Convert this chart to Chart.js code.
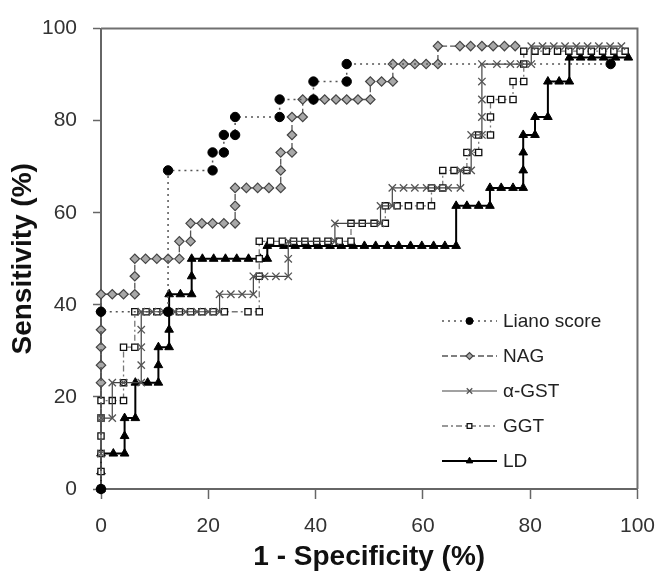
<!DOCTYPE html>
<html>
<head>
<meta charset="utf-8">
<script src="https://cdn.jsdelivr.net/npm/chart.js@4.4.1/dist/chart.umd.min.js"></script>
<style>
  html, body { margin: 0; padding: 0; background: #fff; }
  #wrap { width: 670px; height: 574px; }
</style>
</head>
<body>
<div id="wrap"><canvas id="roc"></canvas></div>
<script>
const seriesNames = ['Liano score', 'NAG', 'α-GST', 'GGT', 'LD'];
const xTicks = [0, 20, 40, 60, 80, 100];
const yTicks = [0, 20, 40, 60, 80, 100];

// ROC steps: 1 - specificity (%) and sensitivity (%)
const lianoX = [0, 0, 12.5, 12.5, 20.8, 20.8, 22.9, 22.9, 25.0, 25.0, 33.3, 33.3, 39.6, 39.6, 45.8, 45.8, 95.0];
const lianoY = [0, 38.5, 38.5, 69.2, 69.2, 73.1, 73.1, 76.9, 76.9, 80.8, 80.8, 84.6, 84.6, 88.5, 88.5, 92.3, 92.3];

const nagX = [0, 0, 0, 0, 0, 0, 0, 2.1, 4.2, 6.3, 6.3, 6.3, 8.3, 10.4, 12.5, 14.6, 14.6, 16.7, 16.7, 18.8, 20.8, 22.9, 25.0, 25.0, 25.0,
  27.1, 29.2, 31.3, 33.5, 33.5, 33.5, 35.6, 35.6, 35.6, 37.6, 37.6, 39.6, 41.7, 43.8, 45.8, 47.9, 50.2, 50.2, 52.3, 54.4, 54.4,
  56.4, 58.5, 60.6, 62.8, 62.8, 66.9, 68.9, 71.0, 73.1, 75.2, 77.2];
const nagY = [0, 23.1, 26.9, 30.8, 34.6, 38.5, 42.3, 42.3, 42.3, 42.3, 46.2, 50.0, 50.0, 50.0, 50.0, 50.0, 53.8, 53.8, 57.7, 57.7, 57.7, 57.7, 57.7, 61.5, 65.4,
  65.4, 65.4, 65.4, 65.4, 69.2, 73.1, 73.1, 76.9, 80.8, 80.8, 84.6, 84.6, 84.6, 84.6, 84.6, 84.6, 84.6, 88.5, 88.5, 88.5, 92.3,
  92.3, 92.3, 92.3, 92.3, 96.2, 96.2, 96.2, 96.2, 96.2, 96.2, 96.2];

const gstX = [0, 0, 0, 2.1, 2.1, 4.2, 7.5, 7.5, 7.5, 7.5, 7.5, 9.6, 11.7, 13.8, 15.8, 17.9, 20.0, 22.1, 22.1, 24.2, 26.3, 28.4, 28.4,
  30.5, 32.6, 34.9, 34.9, 34.9, 43.6, 43.6, 52.1, 52.1, 54.3, 54.3, 56.4, 58.5, 60.7, 62.7, 64.7, 67.0, 67.0, 69.0, 69.0, 69.0,
  71.0, 71.0, 71.0, 71.0, 71.0, 73.8, 76.3, 78.2, 80.2, 80.2, 82.3, 84.4, 86.5, 88.6, 90.7, 92.8, 94.9, 97.0];
const gstY = [0, 7.7, 15.4, 15.4, 23.1, 23.1, 23.1, 26.9, 30.8, 34.6, 38.5, 38.5, 38.5, 38.5, 38.5, 38.5, 38.5, 38.5, 42.3, 42.3, 42.3, 42.3, 46.2,
  46.2, 46.2, 46.2, 50.0, 53.8, 53.8, 57.7, 57.7, 61.5, 61.5, 65.4, 65.4, 65.4, 65.4, 65.4, 65.4, 65.4, 69.2, 69.2, 73.1, 76.9,
  76.9, 80.8, 84.6, 88.5, 92.3, 92.3, 92.3, 92.3, 92.3, 96.2, 96.2, 96.2, 96.2, 96.2, 96.2, 96.2, 96.2, 96.2];

const ggtX = [0, 0, 0, 0, 0, 0, 2.1, 4.2, 4.2, 4.2, 6.3, 6.3, 8.4, 10.4, 12.5, 14.6, 16.7, 18.8, 20.9, 23.0, 27.4, 29.5, 29.5, 29.5, 29.5,
  31.6, 33.8, 35.9, 38.0, 40.2, 42.3, 44.4, 46.6, 46.6, 48.7, 50.9, 53.0, 53.0, 55.2, 57.3, 59.5, 61.6, 61.6, 63.7, 63.7, 65.8,
  68.2, 68.2, 70.4, 70.4, 72.6, 72.6, 72.6, 74.7, 76.8, 76.8, 78.8, 78.8, 78.8, 80.9, 83.0, 85.1, 87.2, 89.3, 91.4, 93.5, 95.6, 97.7];
const ggtY = [0, 3.8, 7.7, 11.5, 15.4, 19.2, 19.2, 19.2, 23.1, 30.8, 30.8, 38.5, 38.5, 38.5, 38.5, 38.5, 38.5, 38.5, 38.5, 38.5, 38.5, 38.5, 46.2, 50.0, 53.8,
  53.8, 53.8, 53.8, 53.8, 53.8, 53.8, 53.8, 53.8, 57.7, 57.7, 57.7, 57.7, 61.5, 61.5, 61.5, 61.5, 61.5, 65.4, 65.4, 69.2, 69.2,
  69.2, 73.1, 73.1, 76.9, 76.9, 80.8, 84.6, 84.6, 84.6, 88.5, 88.5, 92.3, 95.1, 95.1, 95.1, 95.1, 95.1, 95.1, 95.1, 95.1, 95.1, 95.1];

const ldX = [0, 0, 0, 2.3, 4.4, 4.4, 4.4, 6.4, 6.4, 8.7, 10.7, 10.7, 10.7, 12.7, 12.7, 12.7, 12.7, 14.8, 16.9, 16.9, 16.9, 18.9, 21.0, 23.2,
  25.3, 27.5, 29.7, 31.0, 31.0, 34.1, 36.2, 38.4, 40.5, 42.7, 44.8, 47.0, 49.1, 51.2, 53.4, 55.5, 57.7, 59.8, 62.0, 64.1, 66.2,
  66.2, 68.2, 70.4, 72.5, 72.5, 74.6, 76.8, 78.7, 78.7, 78.7, 78.7, 80.9, 80.9, 83.3, 83.3, 85.4, 87.3, 87.3, 89.4, 91.5, 93.7, 95.9, 98.3];
const ldY = [0, 3.8, 7.7, 7.7, 7.7, 11.5, 15.4, 15.4, 23.1, 23.1, 23.1, 26.9, 30.8, 30.8, 34.6, 38.5, 42.3, 42.3, 42.3, 46.2, 50.0, 50.0, 50.0, 50.0,
  50.0, 50.0, 50.0, 50.0, 52.8, 52.8, 52.8, 52.8, 52.8, 52.8, 52.8, 52.8, 52.8, 52.8, 52.8, 52.8, 52.8, 52.8, 52.8, 52.8, 52.8,
  61.5, 61.5, 61.5, 61.5, 65.4, 65.4, 65.4, 65.4, 69.2, 73.1, 76.9, 76.9, 80.8, 80.8, 88.5, 88.5, 88.5, 93.7, 93.7, 93.7, 93.7, 93.7, 93.7];

const pairs = (xs, ys) => xs.map((x, i) => ({ x, y: ys[i] }));

const datasets = [
  { label: seriesNames[0], data: pairs(lianoX, lianoY), borderColor: '#555', borderWidth: 1.5, borderDash: [2, 4],
    pointStyle: 'circle', pointRadius: 4.7, pointBackgroundColor: '#000', pointBorderColor: '#000', pointBorderWidth: 1 },
  { label: seriesNames[1], data: pairs(nagX, nagY), borderColor: '#555', borderWidth: 1.3, borderDash: [6, 3],
    pointStyle: 'rectRot', pointRadius: 4.7, pointBackgroundColor: '#a8a8a8', pointBorderColor: '#444', pointBorderWidth: 1.2 },
  { label: seriesNames[2], data: pairs(gstX, gstY), borderColor: '#444', borderWidth: 1.2, borderDash: [],
    pointStyle: 'crossRot', pointRadius: 5.2, pointBackgroundColor: '#555', pointBorderColor: '#555', pointBorderWidth: 1.3 },
  { label: seriesNames[3], data: pairs(ggtX, ggtY), borderColor: '#777', borderWidth: 1.3, borderDash: [6, 3, 2, 3],
    pointStyle: 'rect', pointRadius: 4.4, pointBackgroundColor: '#fff', pointBorderColor: '#111', pointBorderWidth: 1.3 },
  { label: seriesNames[4], data: pairs(ldX, ldY), borderColor: '#000', borderWidth: 2, borderDash: [],
    pointStyle: 'triangle', pointRadius: 5, pointBackgroundColor: '#000', pointBorderColor: '#000', pointBorderWidth: 1 }
].map(d => ({ ...d, showLine: true, fill: false, tension: 0, clip: false, pointHoverRadius: d.pointRadius }));

// frame on top and right of the plot
const frame = {
  id: 'frame',
  beforeDatasetsDraw(chart) {
    const { ctx, chartArea: a } = chart;
    ctx.save();
    ctx.strokeStyle = '#707070';
    ctx.lineWidth = 2;
    ctx.beginPath();
    ctx.moveTo(a.left, a.top);
    ctx.lineTo(a.right, a.top);
    ctx.lineTo(a.right, a.bottom);
    ctx.stroke();
    ctx.restore();
  }
};

// legend with line + marker samples inside the plot
const lineLegend = {
  id: 'lineLegend',
  afterDatasetsDraw(chart) {
    const { ctx } = chart;
    const x1 = 442, x2 = 497, top = 321, gap = 35;
    ctx.save();
    chart.data.datasets.forEach((ds, i) => {
      const y = top + i * gap;
      ctx.strokeStyle = ds.borderColor;
      ctx.lineWidth = ds.borderWidth;
      ctx.setLineDash(ds.borderDash);
      ctx.beginPath();
      ctx.moveTo(x1, y);
      ctx.lineTo(x2, y);
      ctx.stroke();
      ctx.setLineDash([]);
      ctx.fillStyle = ds.pointBackgroundColor;
      ctx.strokeStyle = ds.pointBorderColor;
      ctx.lineWidth = ds.pointBorderWidth;
      Chart.helpers.drawPoint(ctx, { pointStyle: ds.pointStyle, radius: ds.pointRadius * 0.75, rotation: 0, borderWidth: ds.pointBorderWidth },
        (x1 + x2) / 2, y);
      ctx.fillStyle = '#222';
      ctx.font = '19px "Liberation Sans", Arial, sans-serif';
      ctx.textBaseline = 'middle';
      ctx.textAlign = 'left';
      ctx.fillText(ds.label, x2 + 6, y + 1);
    });
    ctx.restore();
  }
};

const tickFont = { family: '"Liberation Sans", Arial, sans-serif', size: 21 };
const titleFont = { family: '"Liberation Sans", Arial, sans-serif', size: 28, weight: 'bold' };

new Chart(document.getElementById('roc'), {
  type: 'scatter',
  data: { datasets },
  plugins: [frame, lineLegend],
  options: {
    responsive: true,
    maintainAspectRatio: false,
    animation: false,
    devicePixelRatio: 1,
    layout: { padding: { top: 20, right: 24, left: 0, bottom: 0 } },
    plugins: { legend: { display: false }, tooltip: { enabled: false } },
    scales: {
      x: {
        type: 'linear', min: 0, max: 100,
        afterBuildTicks: s => { s.ticks = xTicks.map(v => ({ value: v })); },
        afterFit: s => { s.height = 85; },
        ticks: { font: tickFont, color: '#333', padding: 15 },
        grid: { drawOnChartArea: false, drawTicks: true, tickLength: 10, tickColor: '#666', tickWidth: 1.5 },
        border: { color: '#666', width: 2 },
        title: { display: true, text: '1 - Specificity (%)', font: titleFont, color: '#111', padding: { top: 0, bottom: 0 } }
      },
      y: {
        type: 'linear', min: 0, max: 100,
        afterBuildTicks: s => { s.ticks = yTicks.map(v => ({ value: v })); },
        afterFit: s => { s.width = 101; },
        ticks: { font: tickFont, color: '#333', padding: 16 },
        grid: { drawOnChartArea: false, drawTicks: true, tickLength: 8, tickColor: '#666', tickWidth: 1.5 },
        border: { color: '#666', width: 2 },
        title: { display: true, text: 'Sensitivity (%)', font: titleFont, color: '#111', padding: { top: 6, bottom: 0 } }
      }
    }
  }
});
</script>
</body>
</html>
